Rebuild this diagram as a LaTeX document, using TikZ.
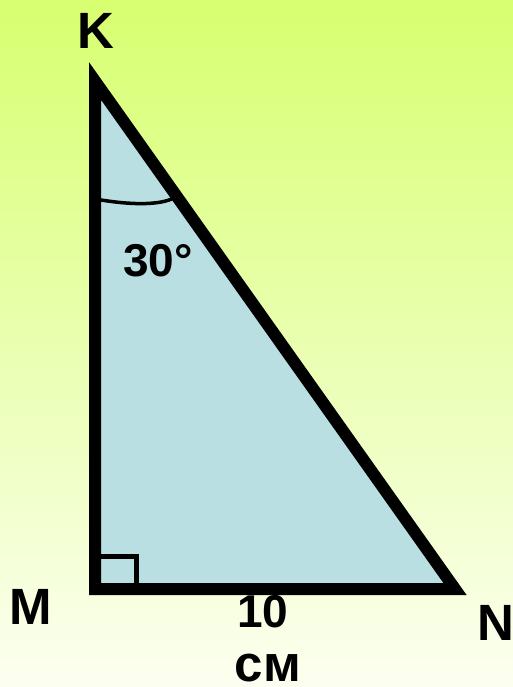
\documentclass[tikz,border=0pt]{standalone}
\usepackage{fontspec}
\setmainfont{Liberation Sans}
\usepackage{tikz}
\usetikzlibrary{positioning}
\definecolor{bgtop}{RGB}{215,255,112}
\definecolor{bgmid}{RGB}{238,255,190}
\definecolor{bgbot}{RGB}{252,255,240}
\definecolor{trifill}{RGB}{185,223,227}
\tikzset{
    vlabel/.style={inner sep=0pt, font=\bfseries\fontsize{51}{60}\selectfont},
    nlabel/.style={inner sep=0pt, font=\bfseries\fontsize{46}{55}\selectfont}
}

\begin{document}
\begin{tikzpicture}[x=1pt, y=-1pt]
    \useasboundingbox (0,0) rectangle (513,687);
    \shade[top color=bgtop, middle color=bgmid, bottom color=bgbot] (0,0) rectangle (513,687);
    \coordinate (K) at (95,81);
    \coordinate (M) at (95,589);
    \coordinate (N) at (455,589);
    \fill[trifill] (K) -- (M) -- (N) -- cycle;
    % right angle mark
    \draw[line width=5pt] (101,556.5) -- (136.5,556.5) -- (136.5,583);
    % angle at K
    \draw[line width=3.5pt] (95,199) .. controls (135,206) and (165,205) .. (177,196);
    \draw[line width=12pt, line join=miter] (K) -- (M) -- (N) -- cycle;
    \node[vlabel] (lK) at (96,31) {K};
    \node[vlabel] (lM) at (31,607) {M};
    \node[vlabel] (lN) at (496,623) {N};
    \node[nlabel] (ang) at (158,261) {30°};
    \node[nlabel] (len) at (263,612) {10};
    \node[vlabel] (unit) at (268,668) {см};
\end{tikzpicture}
\end{document}
